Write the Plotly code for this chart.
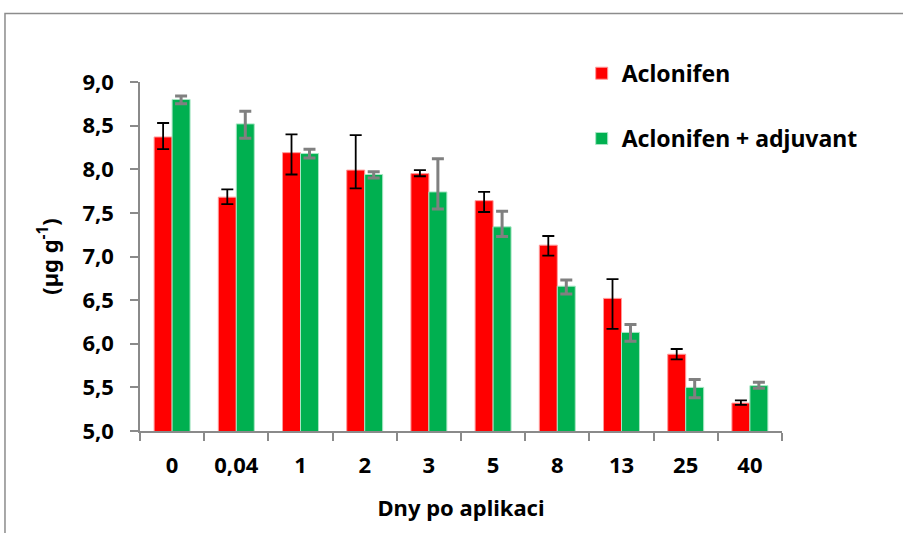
import plotly.graph_objects as go

# Days after application (category labels)
days = ["0", "0,04", "1", "2", "3", "5", "8", "13", "25", "40"]

# Aclonifen alone
aclonifen = [8.37, 7.68, 8.19, 7.99, 7.95, 7.64, 7.13, 6.52, 5.88, 5.32]
aclonifen_err_plus = [0.16, 0.09, 0.21, 0.40, 0.04, 0.10, 0.105, 0.22, 0.06, 0.03]
aclonifen_err_minus = [0.14, 0.08, 0.25, 0.21, 0.03, 0.13, 0.12, 0.35, 0.06, 0.02]

# Aclonifen with adjuvant
adjuvant = [8.80, 8.52, 8.18, 7.94, 7.74, 7.34, 6.66, 6.13, 5.50, 5.52]
adjuvant_err_plus = [0.04, 0.145, 0.05, 0.03, 0.38, 0.18, 0.07, 0.09, 0.09, 0.04]
adjuvant_err_minus = [0.05, 0.165, 0.05, 0.04, 0.195, 0.11, 0.09, 0.10, 0.12, 0.03]

FONT = "Noto Sans"
AXIS_GREY = "#8a8a8a"
BOLD = dict(family=FONT, size=22, color="#000000", weight="bold")

fig = go.Figure()

fig.add_trace(go.Bar(
    x=days, y=aclonifen, name="Aclonifen",
    marker=dict(color="#FF0000", line=dict(color="#ff9a9a", width=1)),
    error_y=dict(type="data", symmetric=False,
                 array=aclonifen_err_plus, arrayminus=aclonifen_err_minus,
                 color="#000000", thickness=1.8, width=6),
    legend="legend", showlegend=True,
))

fig.add_trace(go.Bar(
    x=days, y=adjuvant, name="Aclonifen + adjuvant",
    marker=dict(color="#00B050", line=dict(color="#a8e6c4", width=1)),
    error_y=dict(type="data", symmetric=False,
                 array=adjuvant_err_plus, arrayminus=adjuvant_err_minus,
                 color="#808080", thickness=3, width=6),
    legend="legend2", showlegend=True,
))

legend_common = dict(
    font=dict(family=FONT, size=23, color="#000000", weight="bold"),
    bgcolor="rgba(0,0,0,0)",
    xanchor="left", yanchor="middle",
    itemwidth=30,
)

fig.update_layout(
    width=903, height=533,
    margin=dict(l=140, r=121, t=82, b=102),
    paper_bgcolor="white", plot_bgcolor="white",
    barmode="group", bargap=0.44, bargroupgap=0,
    showlegend=True,
    font=dict(family=FONT, color="#000000"),
    legend=dict(x=0.688, y=1.025, **legend_common),
    legend2=dict(x=0.688, y=0.838, **legend_common),
    xaxis=dict(
        type="category",
        showline=True, linecolor=AXIS_GREY, linewidth=1.5,
        ticks="outside", tickson="boundaries", ticklen=8,
        tickcolor=AXIS_GREY, tickwidth=1.5,
        tickfont=BOLD,
        ticklabelstandoff=14,
        showgrid=False, zeroline=False,
        title=dict(text="Dny po aplikaci", standoff=22, font=BOLD),
    ),
    yaxis=dict(
        range=[5, 9], tickvals=[5, 5.5, 6, 6.5, 7, 7.5, 8, 8.5, 9],
        ticktext=["5,0", "5,5", "6,0", "6,5", "7,0", "7,5", "8,0", "8,5", "9,0"],
        showline=True, linecolor=AXIS_GREY, linewidth=1.5,
        ticks="outside", ticklen=8, tickcolor=AXIS_GREY, tickwidth=1.5,
        tickfont=BOLD,
        ticklabelstandoff=12,
        showgrid=False, zeroline=False,
        title=dict(text="(µg g<sup>-1</sup>)", standoff=18, font=BOLD),
    ),
    shapes=[dict(
        type="rect", xref="paper", yref="paper",
        x0=-0.2103, x1=1.25, y0=-0.32, y1=1.1966,
        line=dict(color="#8c8c8c", width=1.5), fillcolor="rgba(0,0,0,0)",
        layer="below",
    )],
)

fig.write_html("out.html")
